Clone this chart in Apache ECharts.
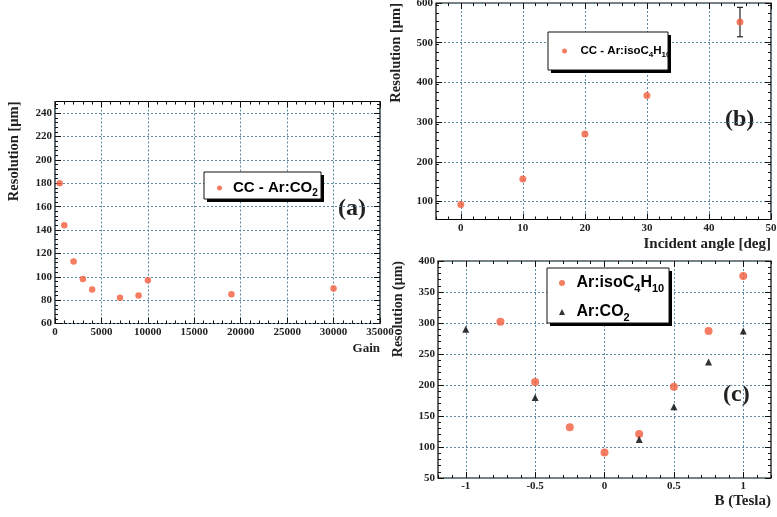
<!DOCTYPE html>
<html>
<head>
<meta charset="utf-8">
<script src="https://cdn.jsdelivr.net/npm/echarts@6/dist/echarts.min.js"></script>
<style>
  html, body { margin: 0; padding: 0; background: #fff; }
  #chart { width: 777px; height: 517px; }
</style>
</head>
<body>
<div id="chart"></div>
<script>
// ---------- Data ----------
// Panel (a): resolution vs gain, CC - Ar:CO2
const aGain = [500, 1000, 2000, 3000, 4000, 7000, 9000, 10000, 19000, 30000];
const aRes  = [180, 144, 113, 98, 89, 82, 84, 97, 85, 90];
// Panel (b): resolution vs incident angle, CC - Ar:isoC4H10
const bAngle = [0, 10, 20, 30, 45];
const bRes   = [93, 157, 270, 367, 552];
const bErr   = [0, 0, 0, 0, 37];
// Panel (c): resolution vs magnetic field
const cBIso  = [-0.75, -0.5, -0.25, 0, 0.25, 0.5, 0.75, 1];
const cResIso = [302, 205, 132, 91, 121, 197, 287, 376];
const cBCO2  = [-1, -0.5, 0.25, 0.5, 0.75, 1];
const cResCO2 = [290, 180, 112, 165, 237, 287];

// Tick labels
const aXTicks = [0, 5000, 10000, 15000, 20000, 25000, 30000, 35000];
const aYTicks = [60, 80, 100, 120, 140, 160, 180, 200, 220, 240];
const bXTicks = [0, 10, 20, 30, 40, 50];
const bYTicks = [100, 200, 300, 400, 500, 600];
const cXTicks = [-1, -0.5, 0, 0.5, 1];
const cYTicks = [50, 100, 150, 200, 250, 300, 350, 400];

// Series names
const nameA = 'CC - Ar:CO2';
const nameB = 'CC - Ar:isoC4H10';
const nameCIso = 'Ar:isoC4H10';
const nameCCO2 = 'Ar:CO2';

// ---------- Styling helpers ----------
const SERIF = 'Liberation Serif, DejaVu Serif, serif';
const SANS = 'Liberation Sans, Arial, DejaVu Sans, sans-serif';
const RED = '#f25c3c';

function minorTicks(min, max, step, majors) {
  const out = [];
  const n = Math.round((max - min) / step);
  for (let i = 0; i <= n; i++) {
    const v = Math.round((min + i * step) * 1000) / 1000;
    if (!majors.some(m => Math.abs(m - v) < 1e-9)) out.push(v);
  }
  return out;
}

function addAxes(list, grid, isX, min, max, majors, minorStep, name, namePad, nameSize) {
  const pos = isX ? ['bottom', 'top'] : ['left', 'right'];
  const minors = minorTicks(min, max, minorStep, majors);
  const mainIndex = list.length;
  list.push({
    type: 'value', gridIndex: grid, position: pos[0], min: min, max: max,
    name: name, nameLocation: 'end', nameGap: 0, nameRotate: isX ? 0 : 90,
    nameMoveOverlap: false,
    nameTextStyle: isX
      ? { fontFamily: SERIF, fontWeight: 'bold', fontSize: nameSize, color: '#222', align: 'right', verticalAlign: 'top', padding: [namePad, 0, 0, 0] }
      : { fontFamily: SERIF, fontWeight: 'bold', fontSize: nameSize, color: '#222', align: 'right', verticalAlign: 'bottom', padding: [0, 0, namePad, 0] },
    axisLine: { show: false, onZero: false },
    axisTick: { show: true, inside: true, length: 6, customValues: majors, lineStyle: { color: '#111', width: 1 } },
    axisLabel: { show: true, customValues: majors, margin: 3, fontFamily: SERIF, fontWeight: 'bold', fontSize: 11, color: '#222',
                 formatter: v => String(v) },
    splitLine: { show: true, lineStyle: { color: '#5d8aa3', type: [2, 2], width: 1 } },
    minorTick: { show: false }, minorSplitLine: { show: false }
  });
  const tickOnly = (p, vals, len) => ({
    type: 'value', gridIndex: grid, position: p, min: min, max: max,
    axisLine: { show: false, onZero: false },
    axisTick: { show: true, inside: true, length: len, customValues: vals, lineStyle: { color: '#111', width: 1 } },
    axisLabel: { show: false }, splitLine: { show: false }, minorTick: { show: false }
  });
  list.push(tickOnly(pos[0], minors, 3));
  list.push(tickOnly(pos[1], majors, 6));
  list.push(tickOnly(pos[1], minors, 3));
  return mainIndex;
}

const xAxes = [], yAxes = [];
// grid 0 = (a), grid 1 = (b), grid 2 = (c)
const aX = addAxes(xAxes, 0, true, 0, 35000, aXTicks, 1000, 'Gain', 19, 13);
const aY = addAxes(yAxes, 0, false, 60, 250, aYTicks, 4, 'Resolution [μm]', 33, 14.5);
const bX = addAxes(xAxes, 1, true, -4, 50, bXTicks, 2, 'Incident angle [deg]', 17, 15);
const bY = addAxes(yAxes, 1, false, 55, 600, bYTicks, 20, 'Resolution [μm]', 32, 14.5);
const cX = addAxes(xAxes, 2, true, -1.2, 1.2, cXTicks, 0.1, 'B (Tesla)', 16, 15);
const cY = addAxes(yAxes, 2, false, 50, 400, cYTicks, 10, 'Resolution (μm)', 33, 14);

function subFormatter(name) {
  return name.replace(/(\d+)/g, '{sub|$1}');
}
function legendText(size, lh) {
  const s = Math.round(size * 0.68);
  return {
    fontFamily: SANS, fontWeight: 'bold', fontSize: size, color: '#000', lineHeight: lh,
    rich: { sub: { fontFamily: SANS, fontWeight: 'bold', fontSize: s, lineHeight: s, verticalAlign: 'bottom', color: '#000' } }
  };
}
const legendBase = { backgroundColor: 'transparent', borderWidth: 0, selectedMode: false, z: 20, formatter: subFormatter };
const gridStyle = { show: true, borderColor: '#000', borderWidth: 1.2, backgroundColor: 'transparent', containLabel: false, outerBoundsMode: 'none' };

function legendBox(x, y, w, h) {
  return [
    { type: 'rect', z: 10, silent: true, shape: { x: x + 3, y: y + 3, width: w, height: h }, style: { fill: '#000' } },
    { type: 'rect', z: 11, silent: true, shape: { x: x, y: y, width: w, height: h }, style: { fill: '#fff', stroke: '#111', lineWidth: 1 } }
  ];
}

const chart = echarts.init(document.getElementById('chart'), null, { renderer: 'canvas' });
chart.setOption({
  backgroundColor: '#fff',
  animation: false,
  grid: [
    Object.assign({ left: 55, top: 101.5, width: 325, height: 222 }, gridStyle),
    Object.assign({ left: 436, top: 3, width: 335, height: 216.5 }, gridStyle),
    Object.assign({ left: 438, top: 261, width: 333, height: 217 }, gridStyle)
  ],
  xAxis: xAxes,
  yAxis: yAxes,
  legend: [
    Object.assign({
      data: [{ name: nameA, icon: 'circle' }], left: 211, top: 172, orient: 'vertical',
      padding: [6, 3, 1, 6], itemWidth: 17, itemHeight: 5,
      textStyle: legendText(15, 20)
    }, legendBase),
    Object.assign({
      data: [{ name: nameB, icon: 'circle' }], left: 558, top: 32, orient: 'vertical',
      padding: [11, 0, 11, 4], itemWidth: 22, itemHeight: 5,
      textStyle: legendText(11.5, 16)
    }, legendBase),
    Object.assign({
      data: [{ name: nameCIso, icon: 'circle' }, { name: nameCCO2, icon: 'path://M0,1 L0.5,0 L1,1 Z' }],
      left: 554, top: 268, orient: 'vertical', itemGap: 7,
      padding: [4, 6, 0, 5], itemWidth: 19, itemHeight: 6,
      textStyle: legendText(16, 22)
    }, legendBase)
  ],
  graphic: [].concat(
    legendBox(204, 172, 117, 27),
    legendBox(548, 32, 120, 38),
    legendBox(547, 268, 122, 55),
    [
      { type: 'text', left: 338, top: 197, style: { text: '(a)', font: 'bold 24px ' + SERIF, fill: '#222' } },
      { type: 'text', left: 725, top: 108, style: { text: '(b)', font: 'bold 24px ' + SERIF, fill: '#222' } },
      { type: 'text', left: 723, top: 383, style: { text: '(c)', font: 'bold 24px ' + SERIF, fill: '#222' } }
    ]
  ),
  series: [
    {
      name: nameA, type: 'scatter', xAxisIndex: aX, yAxisIndex: aY,
      data: aGain.map((g, i) => [g, aRes[i]]),
      symbol: 'circle', symbolSize: 6.5, itemStyle: { color: RED }, z: 3
    },
    {
      name: 'errors-b', type: 'custom', xAxisIndex: bX, yAxisIndex: bY,
      data: bAngle.map((a, i) => [a, bRes[i], bErr[i]]),
      encode: { x: 0, y: 1 }, silent: true, z: 2,
      renderItem: function (params, api) {
        const x = api.value(0), y = api.value(1), e = api.value(2);
        if (!e) return null;
        const p1 = api.coord([x, y - e]), p2 = api.coord([x, y + e]);
        const c = 3;
        const st = { stroke: '#222', lineWidth: 1.2 };
        return {
          type: 'group', children: [
            { type: 'line', shape: { x1: p1[0], y1: p1[1], x2: p2[0], y2: p2[1] }, style: st },
            { type: 'line', shape: { x1: p1[0] - c, y1: p1[1], x2: p1[0] + c, y2: p1[1] }, style: st },
            { type: 'line', shape: { x1: p2[0] - c, y1: p2[1], x2: p2[0] + c, y2: p2[1] }, style: st }
          ]
        };
      }
    },
    {
      name: nameB, type: 'scatter', xAxisIndex: bX, yAxisIndex: bY,
      data: bAngle.map((a, i) => [a, bRes[i]]),
      symbol: 'circle', symbolSize: 7, itemStyle: { color: RED }, z: 3
    },
    {
      name: nameCIso, type: 'scatter', xAxisIndex: cX, yAxisIndex: cY,
      data: cBIso.map((b, i) => [b, cResIso[i]]),
      symbol: 'circle', symbolSize: 8, itemStyle: { color: RED }, z: 3
    },
    {
      name: nameCCO2, type: 'scatter', xAxisIndex: cX, yAxisIndex: cY,
      data: cBCO2.map((b, i) => [b, cResCO2[i]]),
      symbol: 'triangle', symbolSize: 7, itemStyle: { color: '#000' }, z: 4
    }
  ]
});
</script>
</body>
</html>
